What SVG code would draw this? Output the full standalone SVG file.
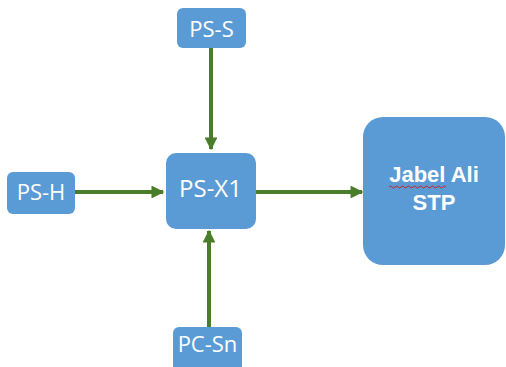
<svg xmlns="http://www.w3.org/2000/svg" width="506" height="367" viewBox="0 0 506 367">
<defs>
<style>
.box{fill:#5B9BD5;}
.lbl{fill:#fff;font-family:"Open Sans","Liberation Sans",sans-serif;font-size:22px;text-anchor:middle;}
.x1{font-size:24px;}
.big{fill:#fff;font-family:"Liberation Sans","Open Sans",sans-serif;font-size:22px;font-weight:bold;text-anchor:middle;}
.conn{stroke:#4A7D2A;stroke-width:4;fill:none;marker-end:url(#ah);}
</style>
<marker id="ah" viewBox="0 0 10 10" refX="9" refY="5" markerWidth="3.2" markerHeight="3.2" orient="auto" markerUnits="strokeWidth">
<path d="M0,0 L10,5 L0,10 z" fill="#4A7D2A"/>
</marker>
</defs>
<rect width="506" height="367" fill="#fff"/>
<g id="connectors">
<line class="conn" x1="211" y1="48" x2="211" y2="149"/>
<line class="conn" x1="75" y1="192" x2="163" y2="192"/>
<line class="conn" x1="256" y1="192" x2="362" y2="192"/>
<line class="conn" x1="209" y1="327" x2="209" y2="231"/>
</g>
<g id="ps-s">
<rect class="box" x="177" y="8" width="69" height="40" rx="6"/>
<text class="lbl" x="211.5" y="37">PS-S</text>
</g>
<g id="ps-h">
<rect class="box" x="7" y="172" width="68" height="42" rx="6"/>
<text class="lbl" x="41" y="200">PS-H</text>
</g>
<g id="ps-x1">
<rect class="box" x="166" y="153" width="90" height="76" rx="10"/>
<text class="lbl x1" x="210.5" y="197">PS-X1</text>
</g>
<g id="jabel-ali">
<rect class="box" x="363" y="117" width="142" height="148" rx="20"/>
<text class="big" x="434" y="182">Jabel Ali</text>
<text class="big" x="434" y="210">STP</text>
<path d="M389,187 q1.5,-2 3,0 t3,0 t3,0 t3,0 t3,0 t3,0 t3,0 t3,0 t3,0 t3,0 t3,0 t3,0 t3,0 t3,0 t3,0 t3,0 t3,0 t3,0 t3,0" stroke="#d02020" stroke-width="1" fill="none"/>
</g>
<g id="pc-sn">
<rect class="box" x="173" y="327" width="69" height="48" rx="6"/>
<text class="lbl" x="207.5" y="352">PC-Sn</text>
</g>
</svg>
